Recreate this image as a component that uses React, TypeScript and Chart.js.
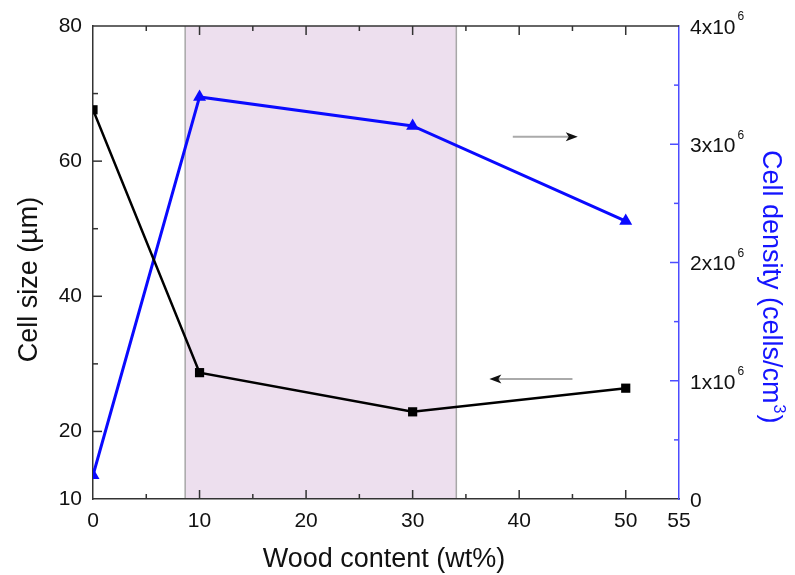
import React, { useEffect, useRef } from "react";
import { Chart, registerables } from "chart.js";
Chart.register(...registerables);

const FONT = "'Liberation Sans', Arial, sans-serif";

const woodContent = [0, 10, 30, 50];
const cellSize = [67.6, 28.7, 22.9, 26.4];
const cellDensity = [0.2e6, 3.4e6, 3.155e6, 2.35e6];

const xTicks = [0, 10, 20, 30, 40, 50, 55];
const xMajorMarks = [10, 20, 30, 40, 50];
const xMinorMarks = [5, 15, 25, 35, 45];
const leftTicks = [10, 20, 40, 60, 80];
const leftMajorMarks = [20, 40, 60];
const leftMinorMarks = [30, 50, 70];
const rightTicks = [0, 1e6, 2e6, 3e6, 4e6];
const rightMajorMarks = [1e6, 2e6, 3e6];
const rightMinorMarks = [0.5e6, 1.5e6, 2.5e6, 3.5e6];

const xTitle = "Wood content (wt%)";
const leftTitle = "Cell size (µm)";
const rightTitleMain = "Cell density (cells/cm";
const rightTitleSup = "3";
const rightTitleEnd = ")";

const shadedRange = [8.65, 34.1];
const arrowRightX = [39.4, 45.5];
const arrowRightY = 63.6;
const arrowLeftX = [45.0, 37.2];
const arrowLeftY = 27.75;

function drawArrow(ctx: CanvasRenderingContext2D, x0: number, x1: number, y: number) {
  const dir = Math.sign(x1 - x0);
  const headLen = 12;
  ctx.save();
  ctx.strokeStyle = "#aaaaaa";
  ctx.lineWidth = 2;
  ctx.beginPath();
  ctx.moveTo(x0, y);
  ctx.lineTo(x1 - dir * headLen * 0.6, y);
  ctx.stroke();
  ctx.fillStyle = "#111";
  ctx.beginPath();
  ctx.moveTo(x1, y);
  ctx.lineTo(x1 - dir * headLen, y - 4.5);
  ctx.lineTo(x1 - dir * headLen * 0.75, y);
  ctx.lineTo(x1 - dir * headLen, y + 4.5);
  ctx.closePath();
  ctx.fill();
  ctx.restore();
}

const decor = {
  id: "decor",
  beforeDraw(chart: any) {
    const { ctx, chartArea: a, scales } = chart;
    const x = scales.x;
    const x0 = x.getPixelForValue(shadedRange[0]);
    const x1 = x.getPixelForValue(shadedRange[1]);
    ctx.save();
    ctx.fillStyle = "#eddfee";
    ctx.fillRect(x0, a.top, x1 - x0, a.bottom - a.top);
    ctx.strokeStyle = "#a8a8a8";
    ctx.lineWidth = 1.5;
    ctx.beginPath();
    ctx.moveTo(x0, a.top);
    ctx.lineTo(x0, a.bottom);
    ctx.moveTo(x1, a.top);
    ctx.lineTo(x1, a.bottom);
    ctx.stroke();
    ctx.restore();
  },
  afterDatasetsDraw(chart: any) {
    const { ctx, chartArea: a, scales } = chart;
    const { x, y, y2 } = scales;
    drawArrow(ctx, x.getPixelForValue(arrowRightX[0]), x.getPixelForValue(arrowRightX[1]), y.getPixelForValue(arrowRightY));
    drawArrow(ctx, x.getPixelForValue(arrowLeftX[0]), x.getPixelForValue(arrowLeftX[1]), y.getPixelForValue(arrowLeftY));

    ctx.save();
    ctx.lineWidth = 1.5;
    ctx.strokeStyle = "#333";
    ctx.beginPath();
    ctx.moveTo(a.left, a.top);
    ctx.lineTo(a.right, a.top);
    ctx.stroke();
    const xMark = (v: number, len: number) => {
      const px = x.getPixelForValue(v);
      ctx.beginPath();
      ctx.moveTo(px, a.bottom);
      ctx.lineTo(px, a.bottom - len);
      ctx.moveTo(px, a.top);
      ctx.lineTo(px, a.top + len);
      ctx.stroke();
    };
    xMajorMarks.forEach((v) => xMark(v, 9));
    xMinorMarks.forEach((v) => xMark(v, 5));
    const yMark = (v: number, len: number) => {
      const py = y.getPixelForValue(v);
      ctx.beginPath();
      ctx.moveTo(a.left, py);
      ctx.lineTo(a.left + len, py);
      ctx.stroke();
    };
    leftMajorMarks.forEach((v) => yMark(v, 9));
    leftMinorMarks.forEach((v) => yMark(v, 5));
    ctx.strokeStyle = "#4d4dff";
    const y2Mark = (v: number, len: number) => {
      const py = y2.getPixelForValue(v);
      ctx.beginPath();
      ctx.moveTo(a.right, py);
      ctx.lineTo(a.right - len, py);
      ctx.stroke();
    };
    rightMajorMarks.forEach((v) => y2Mark(v, 9));
    rightMinorMarks.forEach((v) => y2Mark(v, 5));

    // right tick labels with superscript
    ctx.fillStyle = "#111";
    ctx.textAlign = "left";
    ctx.textBaseline = "middle";
    rightTicks.forEach((v) => {
      const py = y2.getPixelForValue(v) + 2;
      const lx = a.right + 11;
      ctx.font = `21px ${FONT}`;
      if (v === 0) {
        ctx.fillText("0", lx, py);
        return;
      }
      const main = `${v / 1e6}x10`;
      ctx.fillText(main, lx, py);
      const w = ctx.measureText(main).width;
      ctx.font = `12px ${FONT}`;
      ctx.fillText("6", lx + w + 2, py - 11);
    });

    // axis titles
    ctx.textBaseline = "alphabetic";
    ctx.font = `27px ${FONT}`;
    ctx.fillStyle = "#111";
    ctx.textAlign = "center";
    ctx.fillText(xTitle, (a.left + a.right) / 2 - 2, 567);

    ctx.save();
    ctx.translate(37, (a.top + a.bottom) / 2 + 17);
    ctx.rotate(-Math.PI / 2);
    ctx.fillText(leftTitle, 0, 0);
    ctx.restore();

    ctx.save();
    ctx.fillStyle = "#1414ff";
    ctx.translate(763, 150);
    ctx.rotate(Math.PI / 2);
    ctx.textAlign = "left";
    ctx.font = `27px ${FONT}`;
    ctx.fillText(rightTitleMain, 0, 0);
    let w = ctx.measureText(rightTitleMain).width;
    ctx.font = `16px ${FONT}`;
    ctx.fillText(rightTitleSup, w + 1, -11);
    w += ctx.measureText(rightTitleSup).width + 2;
    ctx.font = `27px ${FONT}`;
    ctx.fillText(rightTitleEnd, w, 0);
    ctx.restore();

    ctx.restore();
  },
};

export default function App() {
  const ref = useRef<HTMLCanvasElement>(null);
  useEffect(() => {
    document.body.style.margin = "0";
    document.body.style.overflow = "hidden";
    const canvas = ref.current!;
    const chart = new Chart(canvas, {
      type: "line",
      data: {
        datasets: [
          {
            label: "Cell size",
            data: woodContent.map((w, i) => ({ x: w, y: cellSize[i] })),
            xAxisID: "x",
            yAxisID: "y",
            borderColor: "#000",
            backgroundColor: "#000",
            borderWidth: 2.5,
            pointStyle: "rect",
            pointRadius: 6.5,
            pointBorderWidth: 0,
            pointBackgroundColor: "#000",
            tension: 0,
            clip: 0,
          } as any,
          {
            label: "Cell density",
            data: woodContent.map((w, i) => ({ x: w, y: cellDensity[i] })),
            xAxisID: "x",
            yAxisID: "y2",
            borderColor: "#0a0aff",
            backgroundColor: "#0a0aff",
            borderWidth: 3,
            pointStyle: "triangle",
            pointRadius: 7.5,
            pointBorderWidth: 0,
            pointBackgroundColor: "#0a0aff",
            tension: 0,
            clip: 0,
          } as any,
        ],
      },
      options: {
        responsive: false,
        animation: false,
        layout: { padding: { top: 26, left: 0, right: 0, bottom: 0 } },
        plugins: { legend: { display: false }, tooltip: { enabled: false } },
        scales: {
          x: {
            type: "linear",
            position: "bottom",
            min: 0,
            max: 55,
            afterBuildTicks: (s: any) => {
              s.ticks = xTicks.map((v) => ({ value: v }));
            },
            afterFit: (s: any) => {
              s.height = 76;
            },
            grid: { display: false, drawTicks: false },
            border: { display: true, color: "#333", width: 1.5 },
            ticks: {
              font: { family: FONT, size: 21 },
              color: "#111",
              padding: 10,
              maxRotation: 0,
              autoSkip: false,
            },
            title: { display: false },
          },
          y: {
            type: "linear",
            position: "left",
            min: 10,
            max: 80,
            afterBuildTicks: (s: any) => {
              s.ticks = leftTicks.map((v) => ({ value: v }));
            },
            afterFit: (s: any) => {
              s.width = 93;
            },
            grid: { display: false, drawTicks: false },
            border: { display: true, color: "#333", width: 1.5 },
            ticks: {
              font: { family: FONT, size: 21 },
              color: "#111",
              padding: 11,
              autoSkip: false,
            },
            title: { display: false },
          },
          y2: {
            type: "linear",
            position: "right",
            min: 0,
            max: 4e6,
            afterBuildTicks: (s: any) => {
              s.ticks = rightTicks.map((v) => ({ value: v }));
            },
            afterFit: (s: any) => {
              s.width = 116;
            },
            grid: { display: false, drawTicks: false },
            border: { display: true, color: "#4d4dff", width: 1.5 },
            ticks: { display: false },
            title: { display: false },
          },
        },
      } as any,
      plugins: [decor],
    });
    return () => chart.destroy();
  }, []);
  return <canvas ref={ref} width={795} height={575} style={{ display: "block" }} />;
}
